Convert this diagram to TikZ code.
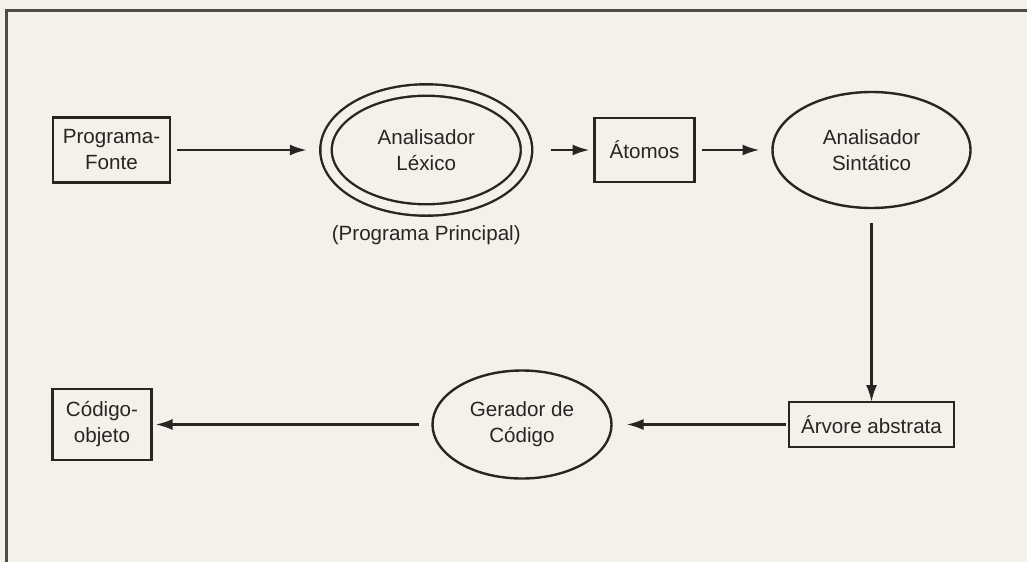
\documentclass[tikz,border=0pt]{standalone}
\usepackage{fontspec}
\setmainfont{Liberation Sans}
\usetikzlibrary{arrows.meta,positioning,shapes.geometric}
\definecolor{ink}{RGB}{40,37,35}
\definecolor{paper}{RGB}{246,240,234}
\definecolor{edge}{RGB}{80,75,70}
\tikzset{
  every picture/.style={color=ink, line width=1.2pt, font=\fontsize{10.3}{13}\selectfont},
  box/.style={draw=ink, rectangle, inner sep=0pt, outer sep=0pt, align=center},
  proc/.style={draw=ink, ellipse, inner sep=0pt, outer sep=0pt, align=center},
  mainproc/.style={proc, double=paper, double distance=4.5pt},
  flow/.style={-{Latex[length=8.5pt,width=5.5pt]}, line width=1.2pt},
  note/.style={inner sep=0pt, align=center},
  frame/.style={draw=edge, line width=1.5pt},
}

\begin{document}
\begin{tikzpicture}[x=0.5pt, y=-0.5pt]
  % paper, and the two edges of the printed frame that show
  \fill[paper] (0,0) rectangle (1027,562);
  \useasboundingbox (0,0) rectangle (1027,562);
  \draw[frame] (1027,10) -- (6,10) -- (6,562);
  % front end: source -> lexer -> tokens -> parser
  \node[box, minimum width=58.5pt, minimum height=32.5pt] (fonte) at (111.5,150) {Programa-\\Fonte};
  \node[mainproc, minimum width=100.25pt, minimum height=60pt, right=78pt of fonte] (lexico) {Analisador\\Léxico};
  \node[note, below=7pt of lexico] (principal) {(Programa Principal)};
  \node[box, minimum width=50pt, minimum height=32pt, right=34pt of lexico] (atomos) {Átomos};
  \node[proc, minimum width=99pt, minimum height=58pt, right=39pt of atomos] (sintatico) {Analisador\\Sintático};
  % back end, read right to left
  \node[box, minimum width=82.5pt, minimum height=22.5pt, below=97pt of sintatico] (arvore) {Árvore abstrata};
  \node[proc, minimum width=89.5pt, minimum height=54pt, left=88.75pt of arvore] (gerador) {Gerador de\\Código};
  \node[box, minimum width=49.5pt, minimum height=35.5pt, left=140.5pt of gerador] (objeto) {Código-\\objeto};
  \draw[flow, shorten <=3.5pt, shorten >=9.6pt] (fonte) -- (lexico);
  \draw[flow, shorten <=12pt, shorten >=2.5pt] (lexico) -- (atomos);
  \draw[flow, shorten <=3.5pt, shorten >=6.5pt] (atomos) -- (sintatico);
  \draw[flow, shorten <=7.5pt] (sintatico) -- (arvore);
  \draw[flow, shorten <=1.75pt, shorten >=7.5pt] (arvore) -- (gerador);
  \draw[flow, shorten <=7pt, shorten >=2pt] (gerador) -- (objeto);
\end{tikzpicture}
\end{document}
